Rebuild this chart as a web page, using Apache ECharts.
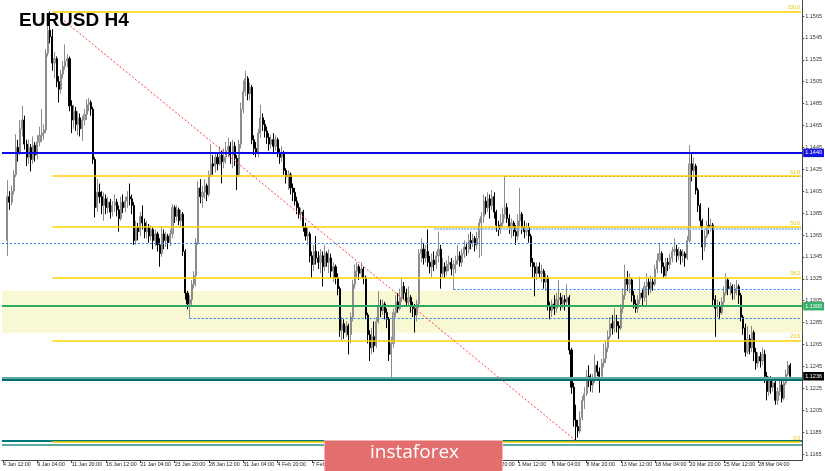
<!DOCTYPE html>
<html><head><meta charset="utf-8">
<script src="https://cdn.jsdelivr.net/npm/echarts@6/dist/echarts.min.js"></script>
<style>html,body{margin:0;padding:0;background:#fff}#c{width:825px;height:471px}</style>
</head><body><div id="c"></div>
<script>
// EURUSD H4 bars, prices x 10000 (open of each bar = previous close)
const firstOpen = 11360;
const closeP = [
11400,11395,11405,11420,11445,11440,11462,11470,11448,11436,
11445,11434,11447,11438,11450,11456,11458,11461,11531,11552,
11546,11522,11526,11505,11498,11512,11519,11524,11526,11483,
11470,11478,11466,11472,11462,11470,11475,11484,11486,11480,
11434,11390,11404,11400,11392,11398,11390,11395,11386,11392,
11395,11388,11380,11395,11390,11396,11400,11398,11392,11360,
11372,11368,11382,11376,11368,11372,11364,11370,11360,11366,
11356,11348,11366,11360,11364,11358,11366,11390,11382,11388,
11378,11384,11350,11312,11302,11306,11320,11328,11358,11408,
11400,11404,11410,11402,11420,11430,11428,11436,11430,11438,
11432,11436,11442,11446,11438,11446,11435,11420,11448,11480,
11496,11508,11494,11500,11452,11444,11440,11458,11472,11466,
11460,11454,11448,11452,11446,11452,11440,11436,11440,11424,
11418,11420,11408,11404,11396,11390,11384,11386,11372,11364,
11366,11346,11338,11350,11344,11340,11346,11336,11348,11340,
11344,11332,11336,11326,11316,11278,11284,11276,11282,11274,
11290,11320,11332,11336,11330,11334,11326,11292,11274,11262,
11272,11264,11286,11300,11296,11302,11294,11288,11256,11266,
11294,11304,11298,11308,11318,11312,11304,11308,11300,11298,
11292,11302,11348,11352,11344,11350,11340,11336,11342,11338,
11346,11352,11330,11336,11332,11338,11340,11334,11338,11342,
11346,11340,11348,11354,11352,11360,11358,11362,11356,11362,
11376,11382,11396,11390,11398,11392,11400,11386,11374,11370,
11376,11384,11390,11380,11372,11376,11368,11364,11378,11384,
11372,11368,11372,11364,11340,11336,11330,11336,11330,11332,
11322,11326,11300,11296,11302,11298,11306,11308,11302,11306,
11304,11308,11260,11226,11196,11190,11186,11198,11214,11220,
11236,11232,11228,11234,11246,11240,11236,11248,11252,11262,
11272,11284,11280,11286,11282,11280,11298,11310,11326,11320,
11324,11310,11302,11298,11306,11312,11308,11318,11322,11316,
11322,11320,11334,11342,11348,11336,11328,11340,11338,11344,
11350,11352,11346,11350,11346,11348,11344,11360,11430,11424,
11428,11406,11392,11378,11354,11364,11374,11372,11374,11306,
11298,11300,11294,11304,11312,11324,11316,11318,11312,11316,
11318,11310,11290,11280,11258,11270,11262,11276,11258,11248,
11254,11250,11256,11236,11222,11232,11226,11230,11214,11222,
11228,11216,11230,11238,11246,11236];
const highP = [
11415,11405,11410,11424,11457,11452,11470,11483,11474,11452,
11452,11448,11455,11450,11456,11464,11480,11466,11535,11563,
11569,11553,11532,11528,11510,11516,11524,11539,11530,11528,
11488,11484,11482,11478,11476,11474,11480,11489,11490,11488,
11482,11436,11416,11412,11405,11404,11402,11400,11398,11396,
11402,11398,11392,11400,11402,11400,11405,11412,11402,11395,
11378,11376,11386,11392,11380,11378,11375,11374,11372,11370,
11368,11362,11373,11370,11368,11366,11370,11393,11392,11392,
11390,11388,11386,11352,11314,11310,11324,11332,11362,11414,
11416,11410,11416,11412,11424,11448,11438,11440,11440,11446,
11442,11444,11450,11454,11450,11452,11450,11438,11452,11486,
11506,11515,11510,11504,11502,11456,11450,11462,11484,11476,
11470,11464,11458,11456,11458,11456,11454,11444,11446,11442,
11426,11424,11422,11412,11408,11400,11394,11390,11388,11376,
11372,11368,11350,11356,11364,11350,11352,11350,11356,11350,
11352,11348,11340,11338,11330,11318,11290,11288,11286,11284,
11294,11324,11338,11340,11338,11340,11336,11328,11294,11278,
11280,11286,11290,11314,11306,11306,11304,11298,11290,11272,
11298,11310,11312,11316,11326,11322,11316,11318,11310,11304,
11302,11306,11352,11362,11358,11356,11370,11346,11348,11350,
11350,11368,11356,11344,11340,11342,11346,11344,11342,11346,
11356,11350,11352,11360,11358,11366,11368,11366,11364,11368,
11380,11386,11402,11400,11404,11402,11406,11404,11388,11378,
11384,11390,11419,11394,11384,11380,11378,11374,11384,11408,
11386,11378,11376,11376,11366,11344,11340,11340,11340,11338,
11334,11330,11328,11304,11306,11310,11312,11324,11312,11310,
11310,11320,11310,11262,11230,11210,11196,11204,11218,11226,
11242,11246,11238,11238,11256,11250,11244,11252,11266,11268,
11278,11290,11292,11298,11292,11286,11302,11316,11338,11332,
11330,11326,11314,11306,11310,11327,11316,11322,11330,11326,
11328,11326,11338,11348,11358,11350,11340,11344,11344,11348,
11354,11362,11356,11354,11352,11352,11350,11364,11447,11440,
11436,11430,11408,11394,11380,11370,11378,11390,11380,11376,
11310,11306,11304,11308,11318,11330,11326,11322,11320,11320,
11324,11320,11312,11292,11284,11282,11274,11282,11278,11262,
11258,11258,11262,11260,11240,11236,11236,11234,11234,11226,
11232,11232,11234,11242,11250,11248];
const lowP = [
11346,11388,11392,11402,11418,11432,11438,11455,11443,11428,
11430,11423,11430,11432,11434,11446,11450,11452,11458,11528,
11540,11515,11508,11500,11486,11494,11508,11516,11518,11478,
11458,11462,11460,11456,11455,11451,11465,11470,11478,11474,
11430,11381,11386,11394,11384,11378,11384,11385,11380,11382,
11386,11382,11368,11378,11385,11386,11390,11392,11384,11356,
11356,11360,11364,11370,11362,11362,11358,11360,11352,11355,
11350,11336,11345,11352,11354,11352,11355,11362,11376,11378,
11374,11372,11346,11306,11297,11289,11300,11316,11318,11356,
11394,11390,11398,11396,11400,11418,11420,11422,11424,11428,
11412,11426,11430,11436,11430,11426,11428,11406,11418,11444,
11476,11492,11488,11488,11448,11438,11436,11436,11454,11460,
11454,11448,11442,11444,11440,11442,11436,11430,11432,11420,
11412,11406,11402,11396,11392,11384,11380,11378,11368,11360,
11356,11340,11326,11332,11338,11334,11330,11318,11332,11336,
11330,11326,11322,11320,11310,11272,11268,11270,11272,11256,
11266,11286,11316,11326,11324,11326,11320,11288,11266,11250,
11256,11258,11262,11284,11290,11292,11288,11280,11250,11235,
11262,11290,11294,11296,11304,11306,11300,11300,11294,11290,
11276,11286,11298,11340,11338,11340,11336,11330,11326,11332,
11334,11340,11316,11326,11326,11328,11332,11328,11315,11330,
11338,11336,11336,11344,11346,11348,11352,11354,11350,11352,
11344,11346,11376,11384,11386,11380,11388,11380,11368,11364,
11366,11372,11380,11376,11366,11362,11364,11356,11360,11372,
11366,11362,11364,11358,11336,11326,11309,11324,11326,11322,
11316,11314,11296,11288,11290,11292,11294,11300,11296,11298,
11296,11300,11256,11220,11190,11176,11180,11184,11196,11206,
11218,11226,11222,11221,11230,11236,11221,11234,11244,11248,
11258,11270,11274,11276,11276,11270,11278,11294,11306,11314,
11312,11304,11298,11294,11294,11302,11300,11304,11300,11310,
11312,11314,11318,11330,11340,11330,11326,11326,11332,11334,
11340,11346,11340,11342,11338,11340,11336,11342,11358,11414,
11418,11402,11386,11372,11342,11350,11362,11366,11368,11300,
11272,11290,11288,11292,11300,11310,11310,11310,11306,11306,
11310,11302,11286,11274,11254,11256,11256,11258,11250,11242,
11244,11244,11246,11230,11214,11218,11220,11222,11210,11210,
11218,11212,11214,11228,11236,11232];

// axis tick labels
const yTickLabels = ['1.1165','1.1185','1.1205','1.1225','1.1245','1.1265','1.1285','1.1305','1.1325','1.1345',
  '1.1365','1.1385','1.1405','1.1425','1.1445','1.1465','1.1485','1.1505','1.1525','1.1545','1.1565'];
const xTickLabels = ['4 Jan 12:00','9 Jan 04:00','11 Jan 20:00','16 Jan 12:00','21 Jan 04:00','23 Jan 20:00',
  '28 Jan 12:00','31 Jan 04:00','4 Feb 20:00','7 Feb 12:00','12 Feb 04:00','14 Feb 20:00','19 Feb 12:00',
  '22 Feb 04:00','26 Feb 20:00','1 Mar 12:00','6 Mar 04:00','8 Mar 20:00','13 Mar 12:00','18 Mar 04:00',
  '20 Mar 20:00','25 Mar 12:00','28 Mar 04:00'];

// chart objects (prices)
const fibHigh = 1.1569, fibLow = 1.1176;
const fibLevels = [0, 23.6, 38.2, 50, 61.8, 100];
const fibStartBar = 21;
const trendLine = {fromBar: 25, fromPrice: 1.1563, toBar: 265, toPrice: 1.11772};
const blueLevel = 1.1440, greenLevel = 1.1300;
const tealUpper = [1.12347, 1.12329];
const tealLower = [1.11772, 1.11737];
const zone = [1.12758, 1.13139];
const dottedFull = [1.13574];
const dottedRays = [{bar: 85, price: 1.12889}, {bar: 208, price: 1.13155}, {bar: 232, price: 1.14186}];
const lightRay = {bar: 199, price: 1.13708};

// calendar of H4 bars (weekdays only), starting 4 Jan 2019 12:00
const leadEmpty = 2, tailEmpty = 5;
const MON = ['Jan','Feb','Mar','Apr','May'];
const categories = [];
{
  let t = Date.UTC(2019, 0, 4, 12);
  const total = leadEmpty + closeP.length + tailEmpty;
  while (categories.length < total) {
    const d = new Date(t);
    const wd = d.getUTCDay();
    if (wd !== 0 && wd !== 6) {
      categories.push(d.getUTCDate() + ' ' + MON[d.getUTCMonth()] + ' ' + String(d.getUTCHours()).padStart(2, '0') + ':00');
    }
    t += 4 * 3600 * 1000;
  }
}
const lastK = categories.length - 1;
const candles = [];
for (let k = 0; k < leadEmpty; k++) candles.push('-');
for (let i = 0; i < closeP.length; i++) {
  const o = i === 0 ? firstOpen : closeP[i - 1];
  const c = closeP[i];
  const h = Math.max(highP[i], o, c), l = Math.min(lowP[i], o, c);
  candles.push([o / 10000, c / 10000, l / 10000, h / 10000]);
}
for (let k = 0; k < tailEmpty; k++) candles.push('-');
const lastClose = closeP[closeP.length - 1] / 10000;

const FONT = 'Liberation Sans';
const boxLabel = (txt, bg) => ({show: true, position: 'end', formatter: txt, backgroundColor: bg, color: '#fff',
  fontSize: 5.5, fontFamily: FONT, padding: [1.5, 2, 1, 2], distance: 1});

const ml = [];
ml.push({yAxis: tealUpper[0], lineStyle: {color: '#5fa9a4', width: 2, type: 'solid'}});
ml.push({yAxis: tealUpper[1], lineStyle: {color: '#006e6a', width: 2, type: 'solid'}});
ml.push({yAxis: tealLower[0], lineStyle: {color: '#007a76', width: 2, type: 'solid'}});
ml.push({yAxis: tealLower[1], lineStyle: {color: '#5fa9a4', width: 2, type: 'solid'}});
dottedFull.forEach(p => ml.push({yAxis: p, lineStyle: {color: '#1e7fe8', width: 1, type: [2, 2]}}));
dottedRays.forEach(r => ml.push([{coord: [r.bar + leadEmpty, r.price], lineStyle: {color: '#1e7fe8', width: 1, type: [2, 2]}},
  {coord: [lastK, r.price]}]));
ml.push([{coord: [lightRay.bar + leadEmpty, lightRay.price], lineStyle: {color: '#9cc4ee', width: 2, type: [2, 1]}},
  {coord: [lastK, lightRay.price]}]);
fibLevels.forEach(lv => {
  const p = fibLow + (fibHigh - fibLow) * lv / 100;
  ml.push([{coord: [fibStartBar + leadEmpty, p], lineStyle: {color: '#ffd200', width: 1.6, type: 'solid'},
    label: {show: true, position: 'insideEndTop', formatter: lv.toFixed(1), color: '#e6c200', fontSize: 5,
      fontFamily: FONT, distance: 1}},
    {coord: [lastK, p]}]);
});
ml.push([{coord: [trendLine.fromBar + leadEmpty, trendLine.fromPrice], lineStyle: {color: '#ff3b3b', width: 1, type: [2, 2]}},
  {coord: [trendLine.toBar + leadEmpty, trendLine.toPrice]}]);
ml.push({yAxis: blueLevel, lineStyle: {color: '#0c0ce6', width: 2, type: 'solid'}, label: boxLabel(blueLevel.toFixed(4), '#1414e0')});
ml.push({yAxis: greenLevel, lineStyle: {color: '#2eaa62', width: 2, type: 'solid'}, label: boxLabel(greenLevel.toFixed(4), '#36b06a')});
ml.push({yAxis: lastClose, lineStyle: {width: 1, color: 'rgba(0,0,0,0)'}, label: boxLabel(lastClose.toFixed(4), '#000')});

const chart = echarts.init(document.getElementById('c'), null, {renderer: 'canvas'});
const showX = (idx, val) => xTickLabels.includes(val);
chart.setOption({
  animation: false,
  backgroundColor: '#fff',
  title: {text: 'EURUSD H4', left: 14, top: 6,
    textStyle: {fontSize: 19, fontWeight: 'bold', fontFamily: FONT, color: '#000'}},
  grid: {left: -4.33, right: 22, top: 0, bottom: 11, containLabel: false},
  xAxis: {
    type: 'category', data: categories, boundaryGap: true,
    axisLine: {lineStyle: {color: '#444', width: 1}},
    axisTick: {show: true, interval: showX, alignWithLabel: true, length: 3, lineStyle: {color: '#444'}},
    axisLabel: {interval: showX, align: 'left', fontSize: 5.3, color: '#222', fontFamily: FONT, margin: 2},
    splitLine: {show: false}
  },
  yAxis: {
    type: 'value', position: 'right', scale: true, min: 1.115952, max: 1.157961,
    axisLine: {show: true, lineStyle: {color: '#444', width: 1}},
    axisTick: {show: true, customValues: yTickLabels.map(Number), length: 2, lineStyle: {color: '#444'}},
    axisLabel: {customValues: yTickLabels.map(Number), formatter: v => v.toFixed(4), fontSize: 5.5,
      color: '#333', fontFamily: FONT, margin: 3},
    splitLine: {show: false}
  },
  series: [
    {type: 'line', data: [], z: 1, silent: true,
      markArea: {silent: true, itemStyle: {color: '#f8f8d2'}, data: [[{yAxis: zone[0]}, {yAxis: zone[1]}]]}},
    {type: 'candlestick', data: candles, z: 2, barWidth: 1.6,
      itemStyle: {color: '#b0b0b0', color0: '#000', borderColor: '#8c8c8c', borderColor0: '#000', borderWidth: 1}},
    {type: 'line', data: [], z: 3, silent: true,
      markLine: {silent: true, symbol: ['none', 'none'], label: {show: false}, precision: 5, data: ml}}
  ],
  graphic: [
    {type: 'rect', left: 324, top: 440, z: 100, shape: {width: 178, height: 32},
      style: {fill: '#e36e6e', stroke: '#f2b6b6', lineWidth: 1}},
    {type: 'text', left: 370, top: 443, z: 101,
      style: {text: 'instaforex', fill: '#fff', font: '19px "Open Sans"'}}
  ]
});
</script></body></html>
